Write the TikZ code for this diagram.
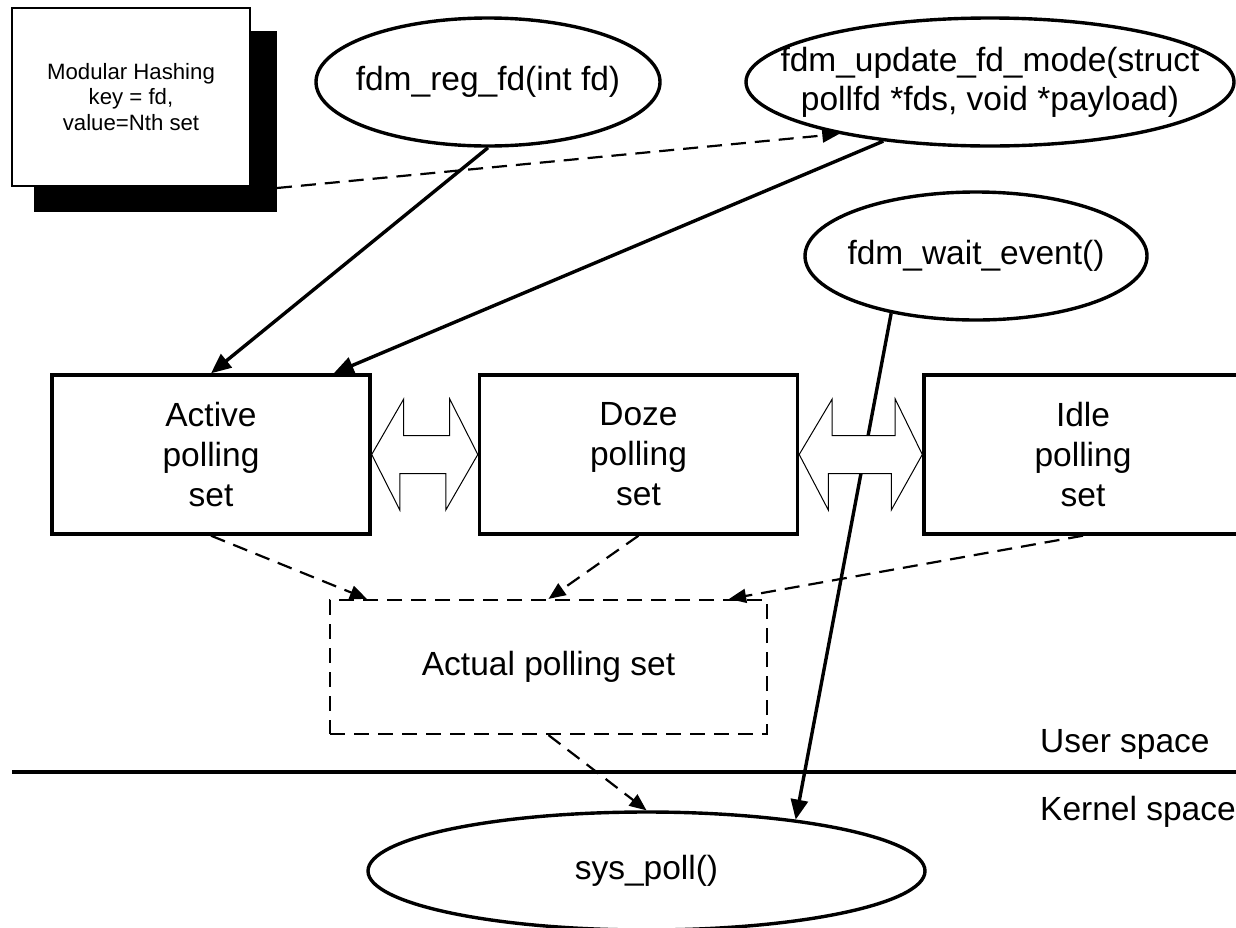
\documentclass[tikz,border=0pt]{standalone}
\usepackage{fontspec}
\setmainfont{Liberation Sans}
\usetikzlibrary{shapes.geometric,arrows.meta,calc}
\begin{document}
\begin{tikzpicture}[x=1pt,y=-1pt,
  bigtxt/.style={font=\fontsize{33.5}{40}\selectfont, align=center},
  smalltxt/.style={font=\fontsize{22.2}{25.5}\selectfont, align=center},
  setbox/.style={draw, line width=3.4pt, minimum width=318pt, minimum height=159pt, inner sep=0pt, bigtxt},
  func/.style={draw, ellipse, line width=3.4pt, inner sep=0pt},
  call/.style={line width=3.4pt, -{Triangle[length=20pt,width=17pt]}},
  feed/.style={line width=2.2pt, dash pattern=on 15pt off 9pt, -{Triangle[length=17pt,width=14pt]}},
  blockarrow/.style={draw, line width=1pt, fill=white, line join=miter}
]
\useasboundingbox (0,0) rectangle (1236,927);

% hash table box with its drop shadow
\node[draw, fill=black, line width=2pt, minimum width=241pt, minimum height=179pt, inner sep=0pt] (hashsh) at (155.5,121.5) {};
\node[draw, fill=white, line width=2.4pt, minimum width=238pt, minimum height=178pt, inner sep=0pt, smalltxt] (hash) at (131,97) {Modular Hashing\\key = fd,\\value=Nth set};

% API calls
\node[func, minimum width=344pt, minimum height=128pt] (reg) at (488,82) {};
\node[bigtxt] (regtxt) at (reg) {fdm\_reg\_fd(int fd)};
\node[func, minimum width=488pt, minimum height=128pt] (upd) at (990,82) {};
\node[bigtxt, font=\fontsize{33.5}{39}\selectfont] (updtxt) at (upd) {fdm\_update\_fd\_mode(struct\\pollfd *fds, void *payload)};
\node[func, minimum width=342pt, minimum height=128pt] (wait) at (976,256) {};
\node[bigtxt] (waittxt) at (wait) {fdm\_wait\_event()};

% polling sets
\node[setbox] (act) at (211,454.5) {Active\\polling\\set};
\node[setbox] (doze) at (638.5,454.5) {Doze\\polling\\set};
\node[setbox] (idle) at (1083,454.5) {Idle\\polling\\set};

\node[draw, line width=2.2pt, dash pattern=on 15pt off 9pt, minimum width=437pt, minimum height=134pt, inner sep=0pt, bigtxt] (apl) at (548.5,667) {Actual polling set};

% kernel side
\node[func, minimum width=557pt, minimum height=118pt] (sys) at (646.5,871) {};
\node[bigtxt] (systxt) at (sys) {sys\_poll()};

% user / kernel boundary
\coordinate (bndL) at (12,772);
\coordinate (bndR) at (1236,772);
\draw[line width=3.4pt] (bndL) -- (bndR);
\node[bigtxt, anchor=base west, inner sep=0pt] (usr) at (1040,752) {User space};
\node[bigtxt, anchor=base west, inner sep=0pt] (krn) at (1040,820) {Kernel space};

% connectors
\draw[call] (wait.214) -- (sys.19.4);
\draw[call] (reg.south) -- (act.north);
\draw[call] (upd.209) -- ($(act.north east)+(-38,0)$);
\draw[feed] ($(hashsh.south east)+(0,-24)$) -- (upd.199);

\draw[feed] (act.south) -- ($(apl.north west)+(38,0)$);
\draw[feed] (doze.south) -- (apl.north);
\draw[feed] (idle.south) -- ($(apl.north east)+(-39,0)$);
\draw[feed] (apl.south) -- (sys.north);

% migration between the sets
\path[blockarrow] (act.east) -- ++(32,-55.5) -- ++(0,36.5) -- ++(46,0) -- ++(0,-36.5)
  -- (doze.west) -- ++(-32,55.5) -- ++(0,-36.5) -- ++(-46,0) -- ++(0,36.5) -- cycle;
\path[blockarrow] (doze.east) -- ++(33,-55.5) -- ++(0,36.5) -- ++(63,0) -- ++(0,-36.5)
  -- (idle.west) -- ++(-31,55.5) -- ++(0,-36.5) -- ++(-63,0) -- ++(0,36.5) -- cycle;
\end{tikzpicture}
\end{document}
